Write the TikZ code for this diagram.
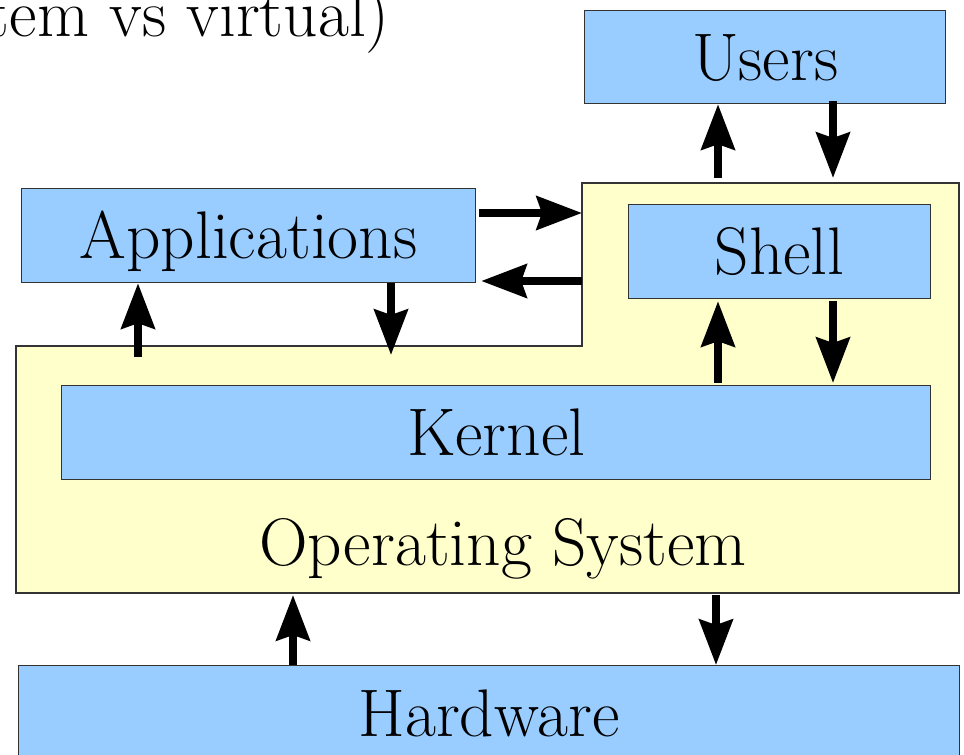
\documentclass[tikz,border=0pt]{standalone}
\usetikzlibrary{arrows.meta}
\definecolor{boxblue}{HTML}{99CCFF}
\definecolor{osyellow}{HTML}{FFFFCC}
\definecolor{edgegray}{HTML}{333333}
\begin{document}
\begin{tikzpicture}[x=0.75pt,y=-0.75pt,
  txt/.style={font=\rmfamily\fontsize{50.5}{56}\selectfont, text height=34.5pt, text depth=0pt, inner sep=0pt},
  blk/.style={txt, draw=edgegray, line width=0.9pt, fill=boxblue, anchor=north west},
  arr/.style={line width=6pt, -{Stealth[length=34pt,width=25pt,inset=4pt]}}]
\useasboundingbox (0,0) rectangle (964,755);
% title fragment
\node[font=\rmfamily\fontsize{50.5}{56}\selectfont, anchor=base east, inner sep=0pt] (title) at (390,37) {tem vs virtual)};
% operating system region
\coordinate (osTL) at (582,183);
\coordinate (osTR) at (959,183);
\coordinate (osBR) at (959,593);
\coordinate (osBL) at (16,593);
\coordinate (osML) at (16,346);
\coordinate (osMR) at (582,346);
\draw[draw=edgegray, line width=0.9pt, fill=osyellow] (osTL) -- (osTR) -- (osBR) -- (osBL) -- (osML) -- (osMR) -- cycle;
\node[txt] (ostext) at (503,542.5) {Operating System};
% boxes
\node[blk, minimum width=270.75pt, minimum height=69.75pt] (users) at (584,10) {Users};
\node[blk, minimum width=226.5pt, minimum height=70.5pt] (shell) at (628,204) {Shell};
\node[blk, minimum width=340.5pt, minimum height=70.5pt] (apps) at (21,188) {Applications};
\node[blk, minimum width=651.75pt, minimum height=70.5pt] (kernel) at (61,385) {Kernel};
\node[blk, minimum width=705.75pt, minimum height=72pt] (hw) at (18,665) {Hardware};
% helper x positions
\coordinate (xu1) at (718,0);
\coordinate (xu2) at (833,0);
\coordinate (xa1) at (138,0);
\coordinate (xa2) at (391,0);
\coordinate (xh1) at (293,0);
\coordinate (xh2) at (716,0);
\coordinate (ya1) at (0,213);
\coordinate (ya2) at (0,281);
% arrows users <-> OS
\draw[arr, shorten <=3.75pt] (osTL -| xu1) -- (users.south -| xu1);
\draw[arr, shorten <=-2.25pt, shorten >=3.75pt] (users.south -| xu2) -- (osTL -| xu2);
% arrows applications <-> OS
\draw[arr, shorten <=2.25pt] (apps.east |- ya1) -- (osTL |- ya1);
\draw[arr, shorten >=3.75pt] (osTL |- ya2) -- (apps.east |- ya2);
\draw[arr, shorten <=-8.25pt] (osML -| xa1) -- (apps.south -| xa1);
\draw[arr, shorten >=-6.75pt] (apps.south -| xa2) -- (osMR -| xa2);
% arrows shell <-> kernel
\draw[arr, shorten <=1.5pt, shorten >=1.5pt] (kernel.north -| xu1) -- (shell.south -| xu1);
\draw[arr, shorten <=1.5pt, shorten >=1.5pt] (shell.south -| xu2) -- (kernel.north -| xu2);
% arrows hardware <-> OS
\draw[arr, shorten >=1.5pt] (hw.north -| xh1) -- (osBL -| xh1);
\draw[arr, shorten <=1.5pt] (osBL -| xh2) -- (hw.north -| xh2);
\end{tikzpicture}
\end{document}
